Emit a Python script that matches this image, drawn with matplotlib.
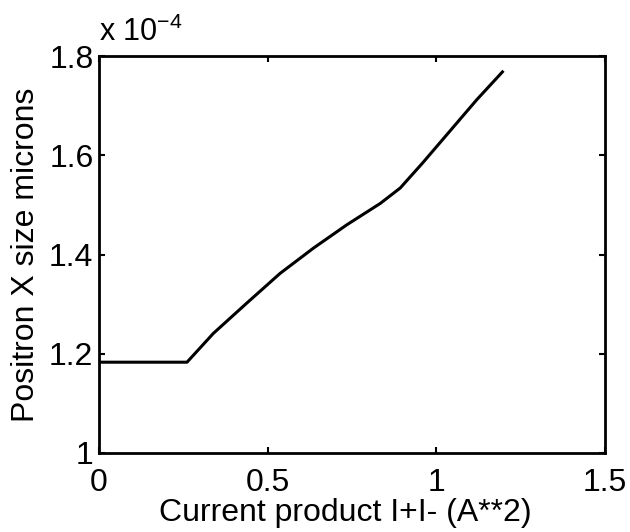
import matplotlib
matplotlib.use("Agg")
import matplotlib.pyplot as plt
from matplotlib.ticker import FixedLocator, FuncFormatter

plt.rcParams["font.family"] = ["Liberation Sans", "DejaVu Sans"]
plt.rcParams["mathtext.fontset"] = "custom"
plt.rcParams["mathtext.rm"] = "Liberation Sans"
plt.rcParams["mathtext.it"] = "Liberation Sans"

# Current product I+ * I- (A^2) and positron horizontal beam size (x 1e-4 microns)
current_product = [0.0, 0.261, 0.339, 0.438, 0.537, 0.636, 0.735, 0.834, 0.893, 0.96, 1.12, 1.196]
size_x_e4 = [1.183, 1.183, 1.241, 1.302, 1.362, 1.413, 1.460, 1.503, 1.534, 1.585, 1.712, 1.768]

x_ticks = [0, 0.5, 1, 1.5]
y_ticks = [1, 1.2, 1.4, 1.6, 1.8]

fig = plt.figure(figsize=(6.30, 5.32), dpi=100)
ax = fig.add_axes([0.1571, 0.1485, 0.8032, 0.7462])

ax.plot(current_product, size_x_e4, color="black", linewidth=2.2, solid_joinstyle="round")

ax.set_xlim(0, 1.5)
ax.set_ylim(1, 1.8)
ax.xaxis.set_major_locator(FixedLocator(x_ticks))
ax.yaxis.set_major_locator(FixedLocator(y_ticks))
fmt = FuncFormatter(lambda v, p: f"{v:g}")
ax.xaxis.set_major_formatter(fmt)
ax.yaxis.set_major_formatter(fmt)

for s in ax.spines.values():
    s.set_linewidth(2.0)
ax.tick_params(direction="in", length=4, width=1.5, labelsize=23,
               top=True, right=True)
ax.tick_params(axis="x", pad=11)
ax.tick_params(axis="y", pad=4)

ax.set_xlabel("Current product I+I- (A**2)", fontsize=23, labelpad=0)
ax.xaxis.label.set_x(0.487)
ax.set_ylabel("Positron X size microns", fontsize=23, labelpad=6)

ax.text(0.0, 1.02, r"x 10$^{-4}$", transform=ax.transAxes,
        fontsize=22, ha="left", va="bottom")

fig.savefig("out.png", dpi=100, facecolor="white")
